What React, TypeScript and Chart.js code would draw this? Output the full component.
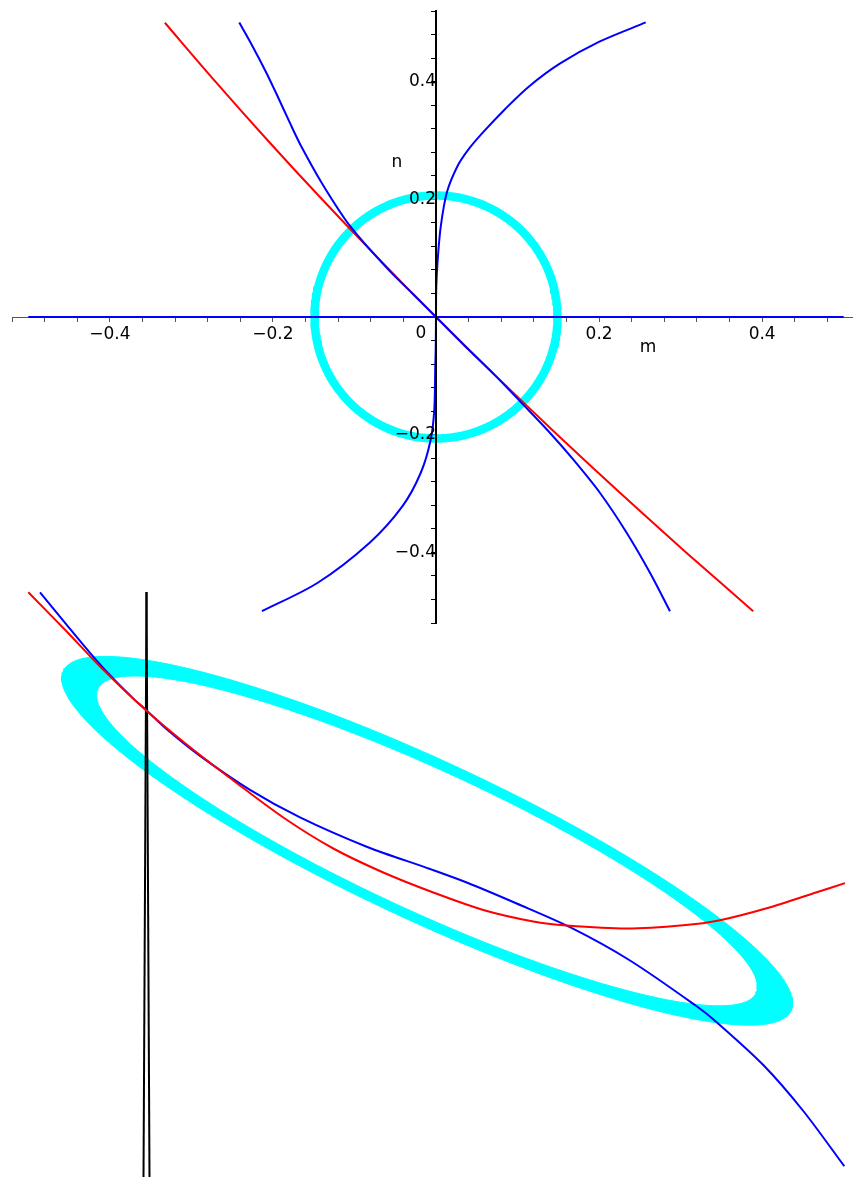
import React, { useEffect, useRef } from "react";
import { Chart, registerables } from "chart.js";
Chart.register(...registerables);

const FONT = "DejaVu Sans";

// ---------- Top plot (m horizontal, n vertical) ----------
const topMin = -0.52;
const topMax = 0.52;
const tickStep = 0.04;
const labeledTicks = [-0.4, -0.2, 0.2, 0.4];

const redTopM = [-0.3325, -0.2705, -0.2063, -0.1398, -0.071, 0, 0.0733, 0.1488, 0.2266, 0.3067, 0.389];
const redTopN = [0.5, 0.4, 0.3, 0.2, 0.1, 0, -0.1, -0.2, -0.3, -0.4, -0.5];

const blueAM = [-0.2413, -0.2247, -0.2087, -0.194, -0.1793, -0.1663, -0.1388, -0.1048, -0.0584, -0.029, 0, 0.036, 0.073, 0.107, 0.1399, 0.1685, 0.2012, 0.234, 0.2626, 0.287];
const blueAN = [0.5006, 0.4593, 0.4168, 0.3743, 0.3302, 0.2928, 0.2248, 0.1534, 0.0804, 0.04, 0, -0.05, -0.1, -0.149, -0.1971, -0.2425, -0.2991, -0.367, -0.435, -0.5];

const blueBM = [0.2572, 0.2004, 0.1518, 0.1137, 0.084, 0.0573, 0.0396, 0.026, 0.0132, 0.0058, 0.0021, 0.0003, 0, -0.0003, -0.0009, -0.0021, -0.0065, -0.0188, -0.0413, -0.0817, -0.1455, -0.2135];
const blueBN = [0.5006, 0.4679, 0.4305, 0.3914, 0.3523, 0.3132, 0.2843, 0.2554, 0.2112, 0.1534, 0.0974, 0.05, 0, -0.05, -0.085, -0.1575, -0.2085, -0.2651, -0.3218, -0.384, -0.452, -0.5];

const blueHM = [-0.5, 0.5];
const blueHN = [0, 0];

// centre m, centre n, radius m, radius n, tilt (deg)
const circleTop = [0, 0, 0.149, 0.2065, 0];

const axisTexts = [
  { text: "m", x: 0.26, y: -0.052 },
  { text: "n", x: -0.048, y: 0.262 },
  { text: "0", x: -0.0184, y: -0.0275 },
];

// ---------- Bottom plot ----------
const botXRange = [-0.147, 0.706];
const botYRange = [-0.467, 0.13];

const redBotX = [-0.1187, -0.0803, -0.047, -0.0013, 0.0397, 0.0863, 0.1363, 0.1863, 0.2363, 0.2863, 0.3363, 0.3863, 0.4197, 0.4797, 0.5363, 0.573, 0.6197, 0.6697, 0.698];
const redBotY = [0.1177, 0.0785, 0.0435, 0, -0.0345, -0.0705, -0.1075, -0.1385, -0.1625, -0.1825, -0.2, -0.2115, -0.2155, -0.2185, -0.2153, -0.2102, -0.1983, -0.1823, -0.1731];

const blueBotX = [-0.107, -0.0803, -0.057, -0.037, -0.0137, -0.001, 0.0197, 0.053, 0.103, 0.153, 0.2197, 0.283, 0.3197, 0.3697, 0.423, 0.483, 0.5497, 0.5697, 0.6163, 0.6563, 0.6973];
const blueBotY = [0.1177, 0.0851, 0.0571, 0.0347, 0.0114, 0, -0.0193, -0.0459, -0.0799, -0.1074, -0.1367, -0.159, -0.1725, -0.1935, -0.2172, -0.2505, -0.2963, -0.3122, -0.355, -0.401, -0.4562];

const blackAX = [-0.0005, -0.0035];
const blackAY = [0.118, -0.467];
const blackBX = [-0.0005, 0.0025];
const blackBY = [0.118, -0.467];

const ringOuter = [0.2802, -0.1308, 0.4016, 0.0795, -25];
const ringInner = [0.28, -0.1309, 0.3625, 0.0703, -24.8];

// ---------- helpers ----------
const zip = (xs: number[], ys: number[]) => xs.map((x, i) => ({ x, y: ys[i] }));

function ellipse(p: number[], n = 240, reverse = false) {
  const [cx, cy, rx, ry, tilt] = p;
  const t = (tilt * Math.PI) / 180;
  const pts: { x: number; y: number }[] = [];
  for (let i = 0; i <= n; i++) {
    const a = (reverse ? -1 : 1) * ((2 * Math.PI * i) / n);
    const u = rx * Math.cos(a);
    const v = ry * Math.sin(a);
    pts.push({ x: cx + u * Math.cos(t) - v * Math.sin(t), y: cy + u * Math.sin(t) + v * Math.cos(t) });
  }
  return pts;
}

const tickValues: number[] = [];
for (let i = Math.round(topMin / tickStep); i <= Math.round(topMax / tickStep); i++) {
  tickValues.push(Math.round(i * tickStep * 1000) / 1000);
}

const tickLabel = (value: any) => {
  const v = Number(value);
  const m = labeledTicks.find((t) => Math.abs(t - v) < 1e-6);
  if (m === undefined) return "";
  return m < 0 ? "\u2212" + Math.abs(m).toFixed(1) : m.toFixed(1);
};

const axisTextPlugin = {
  id: "axisText",
  afterDraw(chart: any) {
    const { ctx, scales } = chart;
    ctx.save();
    ctx.font = `17px "${FONT}"`;
    ctx.fillStyle = "#000";
    ctx.textAlign = "center";
    ctx.textBaseline = "middle";
    axisTexts.forEach((t) => {
      ctx.fillText(t.text, scales.x.getPixelForValue(t.x), scales.y.getPixelForValue(t.y));
    });
    ctx.restore();
  },
};

const line = (data: any[], color: string, width: number, tension: number) => ({
  data,
  borderColor: color,
  backgroundColor: color,
  borderWidth: width,
  showLine: true,
  pointRadius: 0,
  pointHoverRadius: 0,
  tension,
  fill: false,
  borderJoinStyle: "round" as const,
  borderCapStyle: "butt" as const,
});

export default function App() {
  const topRef = useRef<HTMLCanvasElement>(null);
  const botRef = useRef<HTMLCanvasElement>(null);

  useEffect(() => {
    const top = new Chart(topRef.current as HTMLCanvasElement, {
      type: "scatter",
      data: {
        datasets: [
          line(zip(blueAM, blueAN), "#0000ff", 2, 0.3),
          line(zip(blueBM, blueBN), "#0000ff", 2, 0.3),
          line(zip(redTopM, redTopN), "#ff0000", 2, 0.3),
          line(zip(blueHM, blueHN), "#0000ff", 2, 0),
          line(ellipse(circleTop), "#00ffff", 8.5, 0),
        ] as any,
      },
      options: {
        responsive: false,
        animation: false,
        events: [],
        layout: { padding: { left: 12, top: 18, right: 10, bottom: 18 }, autoPadding: false } as any,
        plugins: { legend: { display: false }, tooltip: { enabled: false } },
        scales: {
          x: {
            type: "linear",
            min: topMin,
            max: topMax,
            position: { y: 0 } as any,
            afterBuildTicks: (s: any) => {
              s.ticks = tickValues.map((v) => ({ value: v }));
            },
            grid: { drawOnChartArea: false, drawTicks: true, tickLength: 4, tickColor: "#555", tickWidth: 1 },
            border: { display: true, color: "#555", width: 1 },
            ticks: {
              autoSkip: false,
              maxRotation: 0,
              minRotation: 0,
              padding: 3,
              color: "#000",
              font: { family: FONT, size: 17 },
              callback: tickLabel,
              z: 1,
            } as any,
          },
          y: {
            type: "linear",
            min: topMin,
            max: topMax,
            position: { x: 0 } as any,
            afterBuildTicks: (s: any) => {
              s.ticks = tickValues.map((v) => ({ value: v }));
            },
            grid: { drawOnChartArea: false, drawTicks: true, tickLength: 4, tickColor: "#000", tickWidth: 1 },
            border: { display: true, color: "#000", width: 2, z: 1 } as any,
            ticks: {
              autoSkip: false,
              padding: 7,
              color: "#000",
              font: { family: FONT, size: 17 },
              callback: tickLabel,
              z: 1,
            } as any,
          },
        },
      },
      plugins: [axisTextPlugin],
    });

    const ring = [...ellipse(ringOuter, 300), ...ellipse(ringInner, 300, true)];

    const bot = new Chart(botRef.current as HTMLCanvasElement, {
      type: "scatter",
      data: {
        datasets: [
          line(zip(redBotX, redBotY), "#ff0000", 2, 0.3),
          line(zip(blueBotX, blueBotY), "#0000ff", 2, 0.3),
          line(zip(blackAX, blackAY), "#000000", 2, 0),
          line(zip(blackBX, blackBY), "#000000", 2, 0),
          {
            ...line(ring, "#00ffff", 1, 0),
            fill: "shape",
            backgroundColor: "#00ffff",
          },
        ] as any,
      },
      options: {
        responsive: false,
        animation: false,
        events: [],
        layout: { padding: 0, autoPadding: false } as any,
        plugins: { legend: { display: false }, tooltip: { enabled: false } },
        scales: {
          x: { type: "linear", display: false, min: botXRange[0], max: botXRange[1] },
          y: { type: "linear", display: false, min: botYRange[0], max: botYRange[1] },
        },
      },
    });

    return () => {
      top.destroy();
      bot.destroy();
    };
  }, []);

  return (
    <div style={{ position: "absolute", left: 0, top: 0, width: 853, height: 1177, overflow: "hidden", background: "#fff" }}>
      <canvas ref={topRef} width={870} height={648} style={{ position: "absolute", left: 0, top: -7 }} />
      <canvas ref={botRef} width={853} height={597} style={{ position: "absolute", left: 0, top: 580 }} />
    </div>
  );
}
